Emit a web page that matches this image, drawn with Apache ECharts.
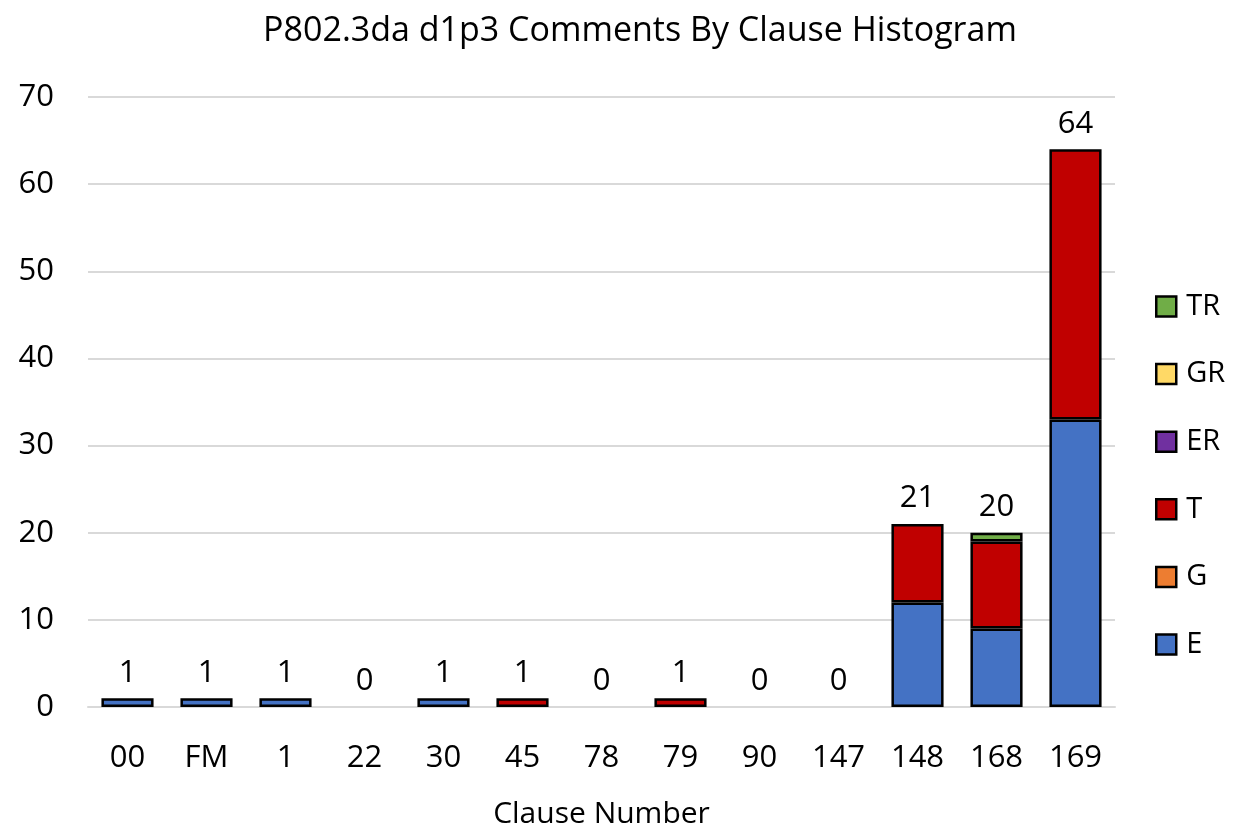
<!DOCTYPE html>
<html>
<head>
<meta charset="utf-8">
<script src="https://cdn.jsdelivr.net/npm/echarts@6/dist/echarts.min.js"></script>
<style>
  html, body { margin: 0; padding: 0; background: #fff; }
  #chart { width: 1234px; height: 829px; }
</style>
</head>
<body>
<div id="chart"></div>
<script>
const categories = ['00', 'FM', '1', '22', '30', '45', '78', '79', '90', '147', '148', '168', '169'];
const eValues  = [1, 1, 1, 0, 1, 0, 0, 0, 0, 0, 12, 9, 33];
const gValues  = [0, 0, 0, 0, 0, 0, 0, 0, 0, 0, 0, 0, 0];
const tValues  = [0, 0, 0, 0, 0, 1, 0, 1, 0, 0, 9, 10, 31];
const erValues = [0, 0, 0, 0, 0, 0, 0, 0, 0, 0, 0, 0, 0];
const grValues = [0, 0, 0, 0, 0, 0, 0, 0, 0, 0, 0, 0, 0];
const trValues = [0, 0, 0, 0, 0, 0, 0, 0, 0, 0, 0, 1, 0];
const yTicks = [0, 10, 20, 30, 40, 50, 60, 70];

const totals = categories.map((_, i) =>
  eValues[i] + gValues[i] + tValues[i] + erValues[i] + grValues[i] + trValues[i]);

const font = '"Open Sans", sans-serif';
const chart = echarts.init(document.getElementById('chart'));

// zero-height segments get no outline, like the original
function stackSeries(name, data, color) {
  return {
    name: name,
    type: 'bar',
    stack: 'all',
    barWidth: '66%',
    data: data.map(v => v === 0 ? { value: 0, itemStyle: { borderWidth: 0 } } : v),
    itemStyle: { color: color, borderColor: '#000', borderWidth: 2.5 }
  };
}

const option = {
  animation: false,
  textStyle: { fontFamily: font },
  title: {
    text: 'P802.3da d1p3 Comments By Clause Histogram',
    left: 635,
    top: 9,
    textAlign: 'center',
    textStyle: { fontFamily: font, fontSize: 34, fontWeight: 'normal', color: '#000' }
  },
  legend: {
    data: ['TR', 'GR', 'ER', 'T', 'G', 'E'],
    orient: 'vertical',
    left: 1150,
    top: 287,
    itemWidth: 20,
    itemHeight: 20,
    itemGap: 38.6,
    icon: 'rect',
    itemStyle: { borderColor: '#000', borderWidth: 2.5 },
    textStyle: { fontFamily: font, fontSize: 29, color: '#000', padding: [0, 0, 0, 5] }
  },
  grid: { left: 88, right: 119, top: 97, bottom: 122, outerBoundsMode: 'none' },
  xAxis: {
    type: 'category',
    data: categories,
    name: 'Clause Number',
    nameLocation: 'middle',
    nameGap: 92,
    nameTextStyle: { fontFamily: font, fontSize: 30, color: '#000' },
    axisLine: { lineStyle: { color: '#d9d9d9', width: 2 } },
    axisTick: { show: false },
    axisLabel: { fontFamily: font, fontSize: 31, color: '#000', margin: 36 }
  },
  yAxis: {
    type: 'value',
    min: yTicks[0],
    max: yTicks[yTicks.length - 1],
    interval: 10,
    axisLine: { show: false },
    axisTick: { show: false },
    splitLine: { lineStyle: { color: '#d9d9d9', width: 2 } },
    axisLabel: { fontFamily: font, fontSize: 31, color: '#000', margin: 34 }
  },
  series: [
    stackSeries('E', eValues, '#4472C4'),
    stackSeries('G', gValues, '#ED7D31'),
    stackSeries('T', tValues, '#C00000'),
    stackSeries('ER', erValues, '#7030A0'),
    stackSeries('GR', grValues, '#FFD966'),
    stackSeries('TR', trValues, '#70AD47'),
    {
      name: 'Total',
      type: 'bar',
      stack: 'all',
      barWidth: '66%',
      data: categories.map(() => 0),
      itemStyle: { color: 'transparent', borderWidth: 0 },
      label: {
        show: true,
        position: 'top',
        distance: 10,
        fontFamily: font,
        fontSize: 31,
        color: '#000',
        formatter: p => String(totals[p.dataIndex])
      }
    }
  ]
};

chart.setOption(option);
</script>
</body>
</html>
